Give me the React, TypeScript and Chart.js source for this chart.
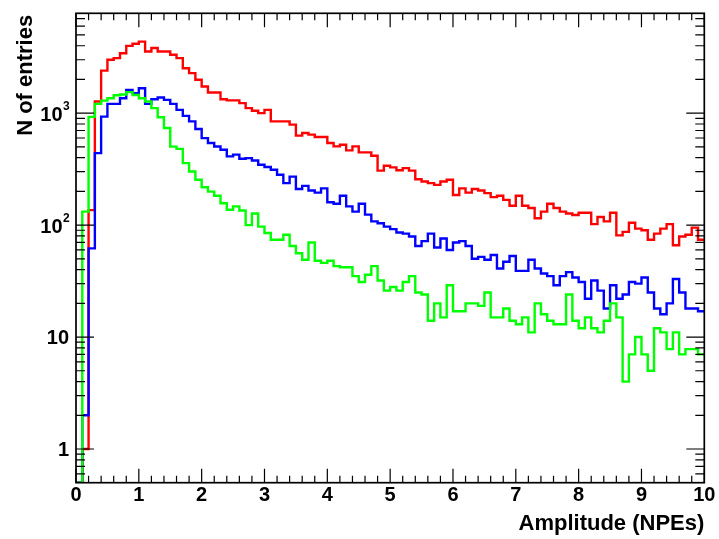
import React, { useEffect, useRef } from "react";
import { Chart, registerables } from "chart.js";

Chart.register(...registerables);

// ---- axis ranges / binning ----
const X_MIN = 0;
const X_MAX = 10;
const BIN_WIDTH = 0.1;
const Y_MIN = 0.5;
const Y_MAX = 7800;

// ---- histogram contents (entries per 0.1 NPE bin) ----
const RED_COUNTS = [
  0, 1, 136, 1270, 2400, 3000, 3100, 3430, 3990, 4170,
  4360, 3560, 3820, 3560, 3560, 3330, 3100, 2520, 2280, 1990,
  1730, 1530, 1530, 1330, 1300, 1300, 1230, 1110, 1050, 1000,
  1070, 845, 845, 845, 790, 630, 665, 643, 613, 613,
  541, 505, 523, 465, 505, 446, 446, 417, 307, 339,
  328, 309, 323, 307, 257, 245, 237, 229, 245, 254,
  186, 213, 195, 210, 204, 193, 178, 183, 168, 149,
  183, 149, 142, 115, 132, 155, 142, 132, 127, 123,
  129, 129, 102, 118, 108, 129, 81, 87, 105, 93,
  90, 74, 84, 93, 102, 66, 79, 82, 95, 74,
];

const BLUE_COUNTS = [
  0, 2, 62, 440, 932, 1210, 1210, 1360, 1610, 1510,
  1670, 1210, 1330, 1380, 1315, 1210, 1070, 946, 845, 722,
  598, 541, 503, 471, 411, 426, 392, 397, 378, 346,
  330, 312, 282, 237, 271, 210, 224, 204, 195, 213,
  160, 155, 183, 147, 132, 155, 124, 108, 104, 97,
  92, 86, 84, 79, 65, 72, 84, 63, 76, 60,
  70, 72, 65, 50, 52, 49, 54, 41, 47, 53,
  39, 39, 49, 41, 37, 35, 29, 35, 38, 34,
  31, 22, 32, 26, 18, 29, 22, 24, 31, 30,
  34, 25, 18, 16, 20, 33, 25, 18, 18, 17,
];

const GREEN_COUNTS = [
  0, 132, 927, 1210, 1295, 1360, 1445, 1470, 1540, 1455,
  1360, 1270, 1110, 920, 737, 502, 480, 358, 301, 254,
  218, 199, 183, 157, 137, 147, 135, 100, 127, 97,
  85, 74, 74, 82, 65, 56, 49, 70, 48, 46,
  48, 43, 42, 42, 35, 31, 36, 43, 32, 26,
  28, 26, 31, 35, 25, 24, 14, 20, 15, 29,
  17, 17, 20, 20, 19, 25, 15, 15, 18, 14,
  13, 15, 11, 20, 16, 14, 13, 13, 24, 14,
  12, 15, 12, 11, 14, 20, 15, 4, 7, 10,
  7, 5, 12, 11, 7.8, 11, 7, 7.8, 7.8, 7,
];

// ---- ticks / labels ----
const X_MAJOR_TICKS = [0, 1, 2, 3, 4, 5, 6, 7, 8, 9, 10];
const X_TICK_LABELS = ["0", "1", "2", "3", "4", "5", "6", "7", "8", "9", "10"];
const X_MINOR_DIVISIONS = 5; // ticks every 0.2
const Y_MAJOR_TICKS = [1, 10, 100, 1000];
const Y_TICK_BASES = ["1", "10", "10", "10"];
const Y_TICK_EXPONENTS = ["", "", "2", "3"];
const Y_DECADES = [0.1, 1, 10, 100, 1000];
const Y_MINOR_MULTIPLIERS = [2, 3, 4, 5, 6, 7, 8, 9];

const X_TITLE = "Amplitude (NPEs)";
const Y_TITLE = "N of entries";

const SERIES = [
  { counts: GREEN_COUNTS, color: "#00ff00", order: 0 },
  { counts: BLUE_COUNTS, color: "#0000ff", order: 1 },
  { counts: RED_COUNTS, color: "#ff0000", order: 2 },
];

const FONT = '"Liberation Sans", Arial, Helvetica, sans-serif';

function toSteps(counts: number[]) {
  const pts = counts.map((c, i) => ({
    x: X_MIN + i * BIN_WIDTH,
    y: c > 0 ? c : Y_MIN,
  }));
  pts.push({ x: X_MIN + counts.length * BIN_WIDTH, y: pts[pts.length - 1].y });
  return pts;
}

const rootFramePlugin = {
  id: "rootFrame",
  afterDraw(chart: any) {
    const { ctx, chartArea, scales } = chart;
    const { left, right, top, bottom } = chartArea;
    const xs = scales.x;
    const ys = scales.y;
    ctx.save();
    ctx.strokeStyle = "#000";
    ctx.fillStyle = "#000";

    // ticks
    ctx.lineWidth = 1.2;
    ctx.beginPath();
    for (let i = 0; i < X_MAJOR_TICKS.length; i++) {
      const v0 = X_MAJOR_TICKS[i];
      const last = i === X_MAJOR_TICKS.length - 1;
      const subs = last ? 1 : X_MINOR_DIVISIONS;
      const step = last ? 0 : (X_MAJOR_TICKS[i + 1] - v0) / X_MINOR_DIVISIONS;
      for (let k = 0; k < subs; k++) {
        const v = v0 + k * step;
        const px = xs.getPixelForValue(v);
        const len = k === 0 ? 14 : 7;
        ctx.moveTo(px, bottom);
        ctx.lineTo(px, bottom - len);
        ctx.moveTo(px, top);
        ctx.lineTo(px, top + len);
      }
    }
    const yTick = (v: number, len: number) => {
      const py = ys.getPixelForValue(v);
      ctx.moveTo(left, py);
      ctx.lineTo(left + len, py);
      ctx.moveTo(right, py);
      ctx.lineTo(right - len, py);
    };
    Y_MAJOR_TICKS.forEach((v) => yTick(v, 18));
    Y_DECADES.forEach((d) =>
      Y_MINOR_MULTIPLIERS.forEach((m) => {
        const v = d * m;
        if (v > Y_MIN && v < Y_MAX) yTick(v, 9);
      })
    );
    ctx.stroke();

    // frame
    ctx.lineWidth = 1.7;
    ctx.strokeRect(left, top, right - left, bottom - top);

    // x tick labels
    ctx.font = `bold 20px ${FONT}`;
    ctx.textAlign = "center";
    ctx.textBaseline = "alphabetic";
    X_MAJOR_TICKS.forEach((v, i) => {
      ctx.fillText(X_TICK_LABELS[i], xs.getPixelForValue(v), bottom + 18.6);
    });

    // y tick labels
    const labelRight = left - 7;
    Y_MAJOR_TICKS.forEach((v, i) => {
      const py = ys.getPixelForValue(v);
      const exp = Y_TICK_EXPONENTS[i];
      if (exp) {
        ctx.font = `bold 12px ${FONT}`;
        const ew = ctx.measureText(exp).width;
        ctx.textAlign = "right";
        ctx.fillText(exp, labelRight + 0.7, py - 3);
        ctx.font = `bold 20px ${FONT}`;
        ctx.fillText(Y_TICK_BASES[i], labelRight + 0.7 - ew - 0.5, py + 7.4);
      } else {
        ctx.font = `bold 20px ${FONT}`;
        ctx.textAlign = "right";
        ctx.fillText(Y_TICK_BASES[i], labelRight, py + 7.2);
      }
    });

    // axis titles
    ctx.font = `bold 22px ${FONT}`;
    ctx.textAlign = "right";
    ctx.fillText(X_TITLE, right, bottom + 47.5);
    ctx.save();
    ctx.translate(32, top + 1.5);
    ctx.rotate(-Math.PI / 2);
    ctx.textAlign = "right";
    ctx.fillText(Y_TITLE, 0, 0);
    ctx.restore();

    ctx.restore();
  },
};

export default function App() {
  const canvasRef = useRef<HTMLCanvasElement | null>(null);

  useEffect(() => {
    const canvas = canvasRef.current;
    if (!canvas) return;
    const chart = new Chart(canvas, {
      type: "line",
      data: {
        datasets: SERIES.map((s) => ({
          data: toSteps(s.counts),
          borderColor: s.color,
          backgroundColor: s.color,
          borderWidth: 2.4,
          pointRadius: 0,
          stepped: true,
          tension: 0,
          fill: false,
          order: s.order,
        })),
      },
      options: {
        animation: false,
        responsive: false,
        devicePixelRatio: 1,
        layout: { padding: { left: 76, right: 14.7, top: 13.3, bottom: 56.3 } },
        plugins: { legend: { display: false }, tooltip: { enabled: false }, title: { display: false } },
        events: [],
        scales: {
          x: { type: "linear", min: X_MIN, max: X_MAX, display: false },
          y: { type: "logarithmic", min: Y_MIN, max: Y_MAX, display: false },
        },
      },
      plugins: [rootFramePlugin],
    } as any);
    return () => chart.destroy();
  }, []);

  return (
    <div style={{ position: "fixed", left: 0, top: 0, width: 719, height: 539, background: "#fff" }}>
      <canvas ref={canvasRef} width={719} height={539} style={{ display: "block" }} />
    </div>
  );
}
